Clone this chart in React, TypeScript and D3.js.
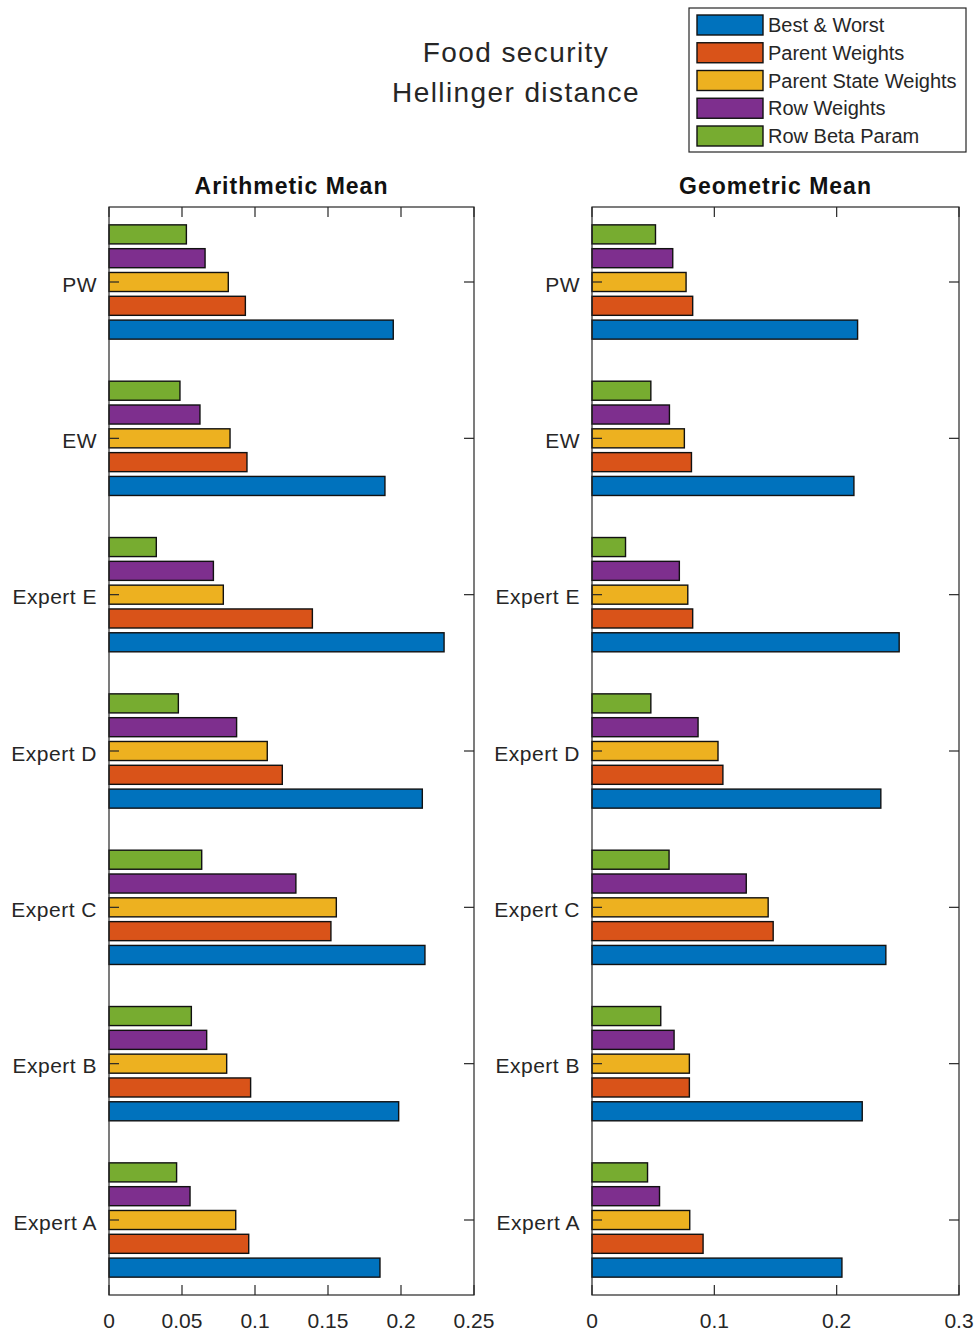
import React, { useRef, useEffect } from 'react';
import * as d3 from 'd3';

// categories, bottom to top as in the figure
const CATEGORIES = ['Expert A', 'Expert B', 'Expert C', 'Expert D', 'Expert E', 'EW', 'PW'];
const SERIES = ['Best & Worst', 'Parent Weights', 'Parent State Weights', 'Row Weights', 'Row Beta Param'];
const COLORS = ['#0072BD', '#D95319', '#EDB120', '#7E2F8E', '#77AC30'];

// Arithmetic mean
const AM_BEST_WORST = [0.1856, 0.1984, 0.2164, 0.2146, 0.2295, 0.189, 0.1947];
const AM_PARENT_WEIGHTS = [0.0957, 0.097, 0.152, 0.1187, 0.1393, 0.0945, 0.0934];
const AM_PARENT_STATE_WEIGHTS = [0.0868, 0.0806, 0.1557, 0.1084, 0.0783, 0.0829, 0.0817];
const AM_ROW_WEIGHTS = [0.0555, 0.0669, 0.128, 0.0874, 0.0715, 0.0623, 0.0658];
const AM_ROW_BETA = [0.0463, 0.0564, 0.0635, 0.0475, 0.0324, 0.0486, 0.053];

// Geometric mean
const GM_BEST_WORST = [0.2043, 0.2209, 0.2402, 0.2361, 0.2511, 0.2141, 0.2171];
const GM_PARENT_WEIGHTS = [0.0908, 0.0796, 0.1481, 0.107, 0.0823, 0.0813, 0.0823];
const GM_PARENT_STATE_WEIGHTS = [0.0799, 0.0796, 0.144, 0.103, 0.0783, 0.0755, 0.0769];
const GM_ROW_WEIGHTS = [0.0552, 0.0671, 0.1261, 0.0867, 0.0714, 0.0633, 0.066];
const GM_ROW_BETA = [0.0454, 0.0562, 0.063, 0.0481, 0.0274, 0.0481, 0.0519];

const AM_TICKS = [0, 0.05, 0.1, 0.15, 0.2, 0.25];
const GM_TICKS = [0, 0.1, 0.2, 0.3];

const W = 978;
const H = 1338;
const FONT = '"Liberation Sans", Arial, Helvetica, sans-serif';
const INK = '#262626';

interface PanelOpts {
  x0: number;
  x1: number;
  max: number;
  ticks: number[];
  title: string;
  series: number[][];
}

const drawPanel = (svg: d3.Selection<SVGSVGElement, unknown, null, undefined>, o: PanelOpts) => {
  const top = 207;
  const bottom = 1295;
  const x = d3.scaleLinear().domain([0, o.max]).range([o.x0, o.x1]);
  const y = d3.scalePoint<string>().domain(CATEGORIES).range([1220, 282]);
  const step = y.step();
  const half = (step * 0.1523 * 5) / 2;
  // first series at the bottom of each group
  const inner = d3.scaleBand<string>().domain(SERIES).range([half, -half]).paddingInner(0.2).paddingOuter(0.1);

  const g = svg.append('g');

  CATEGORIES.forEach((cat, ci) => {
    SERIES.forEach((s, si) => {
      const v = o.series[si][ci];
      g.append('rect')
        .attr('x', x(0))
        .attr('y', (y(cat) ?? 0) + (inner(s) ?? 0))
        .attr('width', x(v) - x(0))
        .attr('height', inner.bandwidth())
        .attr('fill', COLORS[si])
        .attr('stroke', '#111')
        .attr('stroke-width', 1.4);
    });
  });

  // box
  g.append('rect')
    .attr('x', o.x0)
    .attr('y', top)
    .attr('width', o.x1 - o.x0)
    .attr('height', bottom - top)
    .attr('fill', 'none')
    .attr('stroke', INK)
    .attr('stroke-width', 1.2);

  // x ticks (inward, top and bottom)
  o.ticks.forEach(t => {
    g.append('line').attr('x1', x(t)).attr('x2', x(t)).attr('y1', bottom).attr('y2', bottom - 10)
      .attr('stroke', INK).attr('stroke-width', 1.2);
    g.append('line').attr('x1', x(t)).attr('x2', x(t)).attr('y1', top).attr('y2', top + 10)
      .attr('stroke', INK).attr('stroke-width', 1.2);
    g.append('text')
      .attr('x', x(t))
      .attr('y', 1328)
      .attr('text-anchor', 'middle')
      .attr('font-family', FONT)
      .attr('font-size', 21)
      .attr('fill', INK)
      .text(d3.format('~g')(t));
  });

  // y ticks (inward, left and right)
  CATEGORIES.forEach(cat => {
    const cy = y(cat) ?? 0;
    g.append('line').attr('x1', o.x0).attr('x2', o.x0 + 10).attr('y1', cy).attr('y2', cy)
      .attr('stroke', INK).attr('stroke-width', 1.2);
    g.append('line').attr('x1', o.x1).attr('x2', o.x1 - 10).attr('y1', cy).attr('y2', cy)
      .attr('stroke', INK).attr('stroke-width', 1.2);
    g.append('text')
      .attr('x', o.x0 - 12)
      .attr('y', cy + 9.5)
      .attr('text-anchor', 'end')
      .attr('font-family', FONT)
      .attr('font-size', 21)
      .attr('letter-spacing', 0.5)
      .attr('fill', INK)
      .text(cat);
  });

  g.append('text')
    .attr('x', (o.x0 + o.x1) / 2)
    .attr('y', 194)
    .attr('text-anchor', 'middle')
    .attr('font-family', FONT)
    .attr('font-size', 23)
    .attr('font-weight', 'bold')
    .attr('letter-spacing', 1)
    .attr('fill', '#111')
    .text(o.title);
};

const FoodSecurityChart: React.FC = () => {
  const svgRef = useRef<SVGSVGElement>(null);

  useEffect(() => {
    const svg = d3.select(svgRef.current as SVGSVGElement);
    svg.selectAll('*').remove();

    svg.append('rect').attr('width', W).attr('height', H).attr('fill', '#fff');

    // main title
    ['Food security', 'Hellinger distance'].forEach((line, i) => {
      svg.append('text')
        .attr('x', 516)
        .attr('y', 62 + i * 40)
        .attr('text-anchor', 'middle')
        .attr('font-family', FONT)
        .attr('font-size', 28)
        .attr('letter-spacing', 1.4)
        .attr('fill', INK)
        .text(line);
    });

    drawPanel(svg, {
      x0: 109, x1: 474, max: 0.25, ticks: AM_TICKS, title: 'Arithmetic Mean',
      series: [AM_BEST_WORST, AM_PARENT_WEIGHTS, AM_PARENT_STATE_WEIGHTS, AM_ROW_WEIGHTS, AM_ROW_BETA],
    });
    drawPanel(svg, {
      x0: 592, x1: 959, max: 0.3, ticks: GM_TICKS, title: 'Geometric Mean',
      series: [GM_BEST_WORST, GM_PARENT_WEIGHTS, GM_PARENT_STATE_WEIGHTS, GM_ROW_WEIGHTS, GM_ROW_BETA],
    });

    // legend
    const lg = svg.append('g');
    lg.append('rect')
      .attr('x', 689).attr('y', 8).attr('width', 277).attr('height', 144)
      .attr('fill', '#fff').attr('stroke', INK).attr('stroke-width', 1.2);
    SERIES.forEach((s, i) => {
      const cy = 25 + i * 27.75;
      lg.append('rect')
        .attr('x', 697).attr('y', cy - 10).attr('width', 66).attr('height', 20)
        .attr('fill', COLORS[i]).attr('stroke', '#111').attr('stroke-width', 1.4);
      lg.append('text')
        .attr('x', 768)
        .attr('y', cy + 7)
        .attr('font-family', FONT)
        .attr('font-size', 20)
        .attr('fill', INK)
        .text(s);
    });
  }, []);

  return <svg ref={svgRef} width={W} height={H} style={{ position: 'absolute', left: 0, top: 0 }} />;
};

export default function App() {
  return <FoodSecurityChart />;
}
